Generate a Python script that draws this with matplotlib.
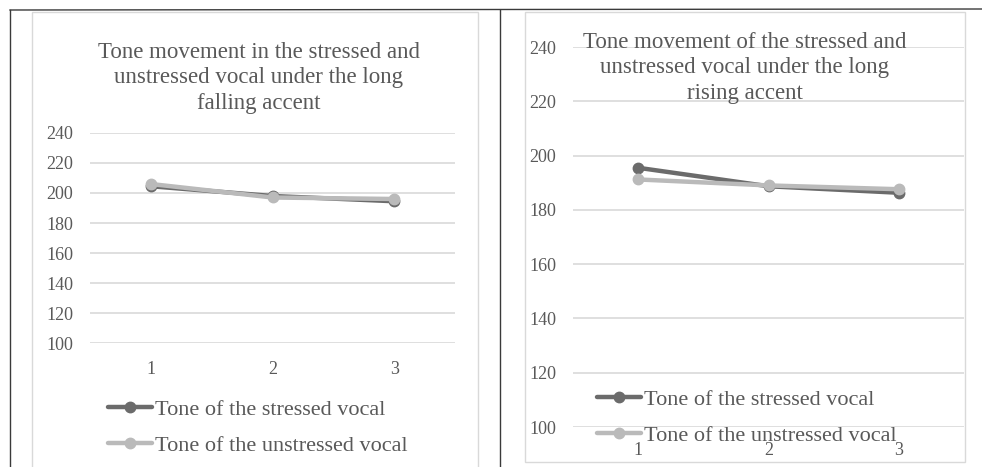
import matplotlib
matplotlib.use("Agg")
import matplotlib.pyplot as plt
from matplotlib.lines import Line2D
from matplotlib.patches import Rectangle

W, H = 982, 467

categories = ["1", "2", "3"]
series_names = ["Tone of the stressed vocal", "Tone of the unstressed vocal"]

falling_stressed = [204.5, 198.0, 194.5]
falling_unstressed = [206.0, 197.0, 196.0]
rising_stressed = [195.5, 188.7, 186.3]
rising_unstressed = [191.2, 189.0, 187.6]

falling_title = "Tone movement in the stressed and\nunstressed vocal under the long\nfalling accent"
rising_title = "Tone movement of the stressed and\nunstressed vocal under the long\nrising accent"

y_ticks = [100, 120, 140, 160, 180, 200, 220, 240]

DARK = "#6b6b6b"
LIGHT = "#bababa"
GRID = "#d9d9d9"
TEXT = "#595959"

plt.rcParams["font.family"] = ["Liberation Serif", "DejaVu Serif"]

fig = plt.figure(figsize=(W / 100, H / 100), dpi=100)


def px_box(x0, y0, x1, y1):
    # pixel box (top-left origin) -> figure fraction [l, b, w, h]
    return [x0 / W, 1 - y1 / H, (x1 - x0) / W, (y1 - y0) / H]


def fig_line(xs, ys, **kw):
    fig.add_artist(Line2D([x / W for x in xs], [1 - y / H for y in ys],
                          transform=fig.transFigure, **kw))


# table frame around the two charts
fig_line([10, W], [10, 9], color="#3a3a3a", lw=1.0)
fig_line([10, 10], [10, H], color="#3a3a3a", lw=1.0)
fig_line([500, 500], [10, H], color="#3a3a3a", lw=1.0)

# chart area borders
for (x0, y0, x1, y1) in [(32, 12, 478, H + 5), (525, 12, 965, 462)]:
    l, b, w, h = px_box(x0, y0, x1, y1)
    fig.add_artist(Rectangle((l, b), w, h, transform=fig.transFigure,
                             fill=False, edgecolor=GRID, lw=1.0))


def draw(ax, stressed, unstressed, pad):
    x = range(1, len(categories) + 1)
    for vals, col, name in [(stressed, DARK, series_names[0]),
                            (unstressed, LIGHT, series_names[1])]:
        ax.plot(x, vals, color=col, lw=3.2, marker="o", ms=7.5,
                solid_capstyle="round", label=name, zorder=3)
    ax.set_xlim(0.5, 3.5)
    ax.set_ylim(100, 240)
    ax.set_yticks(y_ticks)
    ax.set_xticks(list(x))
    ax.set_xticklabels(categories)
    ax.grid(axis="y", color=GRID, lw=1.2)
    ax.set_axisbelow(True)
    for s in ax.spines.values():
        s.set_visible(False)
    ax.tick_params(length=0, labelsize=13, labelcolor=TEXT)
    ax.tick_params(axis="x", pad=pad)
    ax.tick_params(axis="y", pad=12)
    ax.patch.set_alpha(0)


def legend(ax, x, y):
    ax.legend(loc="upper left", bbox_to_anchor=(x / W, 1 - y / H),
              bbox_transform=fig.transFigure, frameon=False, fontsize=16,
              labelcolor=TEXT, handlelength=2.0, handletextpad=0.12,
              labelspacing=0.7, borderaxespad=0, borderpad=0)


# left chart: long falling accent
ax1 = fig.add_axes(px_box(90, 133, 455, 343))
draw(ax1, falling_stressed, falling_unstressed, pad=13)
fig.text(259 / W, 1 - 78 / H, falling_title, ha="center", va="center",
         fontsize=16.5, color=TEXT, linespacing=1.28)
legend(ax1, 108, 399)

# right chart: long rising accent
ax2 = fig.add_axes(px_box(573, 47, 964, 427))
draw(ax2, rising_stressed, rising_unstressed, pad=11)
fig.text(745 / W, 1 - 68 / H, rising_title, ha="center", va="center",
         fontsize=16.5, color=TEXT, linespacing=1.28)
legend(ax2, 597, 389)

fig.savefig("out.png", dpi=100, facecolor="white")
